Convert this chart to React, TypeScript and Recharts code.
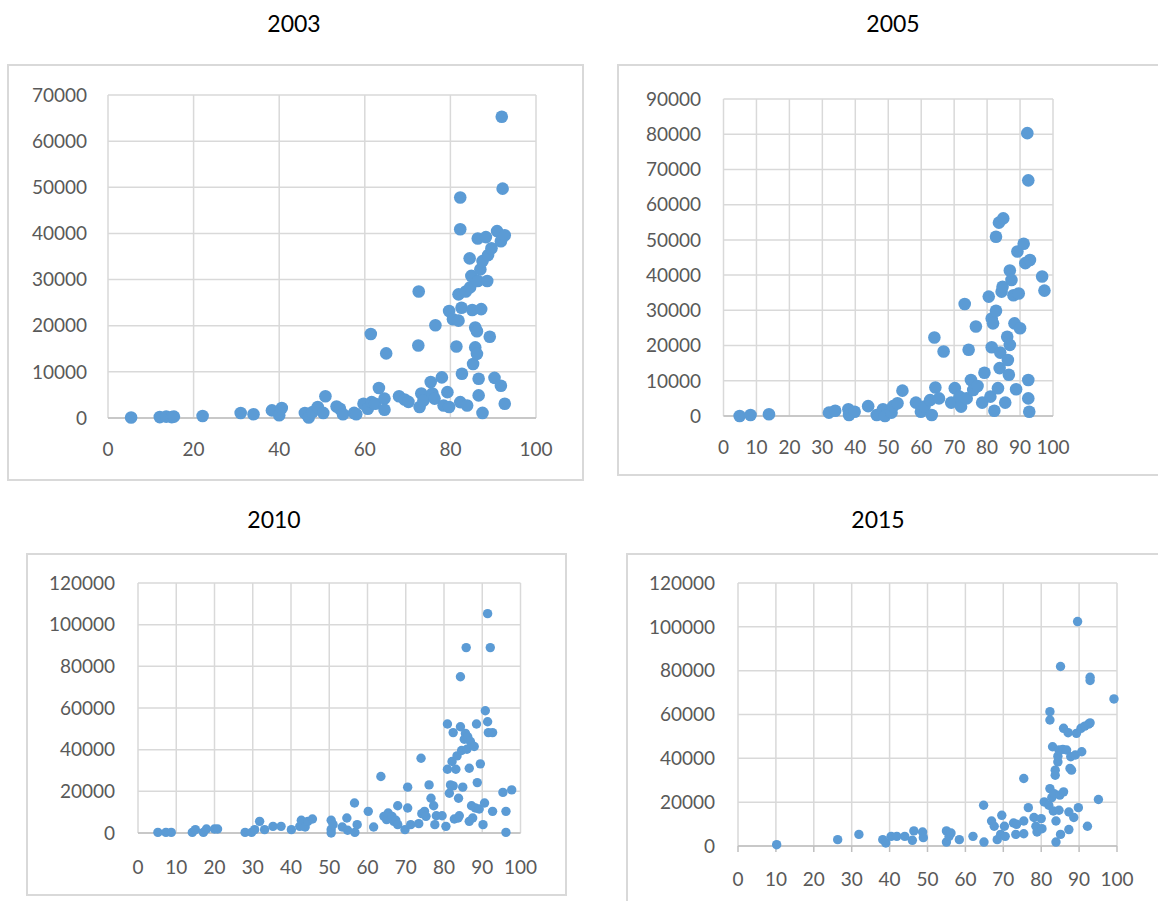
import { ScatterChart, Scatter, XAxis, YAxis, CartesianGrid } from 'recharts'

// [x, y] pairs
const points2003: [number, number][] = [
  [5.4, 100], [12.1, 200], [13.6, 300], [14.9, 200], [15.4, 300], [22.1, 430], [31, 1080], [34, 800],
  [38.3, 1650], [40, 600], [40.6, 2150], [46, 1080], [46.9, 100], [47.8, 1300], [49, 2400], [50.3, 1100],
  [50.8, 4700], [53.4, 2500], [54.2, 2000], [54.9, 800], [57.5, 1100], [58, 800], [59.7, 3100], [60.7, 2000],
  [61.4, 18200], [61.6, 3450], [62.4, 3100], [63.3, 6500], [64.6, 4200], [64.6, 1800], [65, 14000], [68, 4700],
  [69.3, 4000], [70.2, 3500], [72.6, 27400], [72.5, 15700], [72.8, 2400], [73.2, 5300], [73.7, 3800], [75.4, 7800],
  [75.8, 5300], [76.3, 4200], [76.5, 20100], [78, 8800], [78.4, 2700], [79.3, 5600], [79.7, 2400], [79.7, 23200],
  [80.6, 21400], [81.9, 21100], [81.4, 15500], [81.9, 26800], [82.3, 3450], [82.3, 47800], [82.3, 40900], [82.6, 23900],
  [82.7, 9600], [83.9, 2700], [83.6, 27400], [84.5, 34600], [84.9, 30800], [85.1, 23400], [84.6, 28300], [85.3, 11700],
  [85.8, 19600], [85.8, 15300], [86.2, 13900], [86.4, 38900], [86.2, 18800], [86.4, 29700], [86.6, 8500], [86.6, 4900],
  [87, 32200], [87.2, 23600], [87.5, 1100], [87.5, 34000], [88.3, 39200], [88.6, 29700], [88.8, 35300], [89.2, 17600],
  [89.6, 36800], [90.3, 8700], [90.9, 40500], [91.8, 38300], [91.8, 7000], [92, 65300], [92.2, 49700], [92.7, 39600],
  [92.7, 3100],
]

const points2005: [number, number][] = [
  [4.9, 0], [8.2, 300], [13.8, 500], [32, 950], [33.9, 1500], [37.9, 1900], [38.1, 300], [39.8, 1200],
  [43.9, 2800], [46.5, 300], [48.4, 1900], [49, 0], [51, 950], [51.5, 2800], [52.8, 3600], [54.3, 7200],
  [58.4, 3800], [59.9, 1200], [61, 2650], [63.2, 300], [62.7, 4500], [64, 22300], [64.3, 8100], [65.4, 5000],
  [66.8, 18300], [69.1, 3800], [70.2, 7900], [71.6, 5500], [72.1, 2650], [73.2, 31800], [74.4, 18800], [73.8, 5000],
  [75.1, 10200], [75.8, 7400], [76.6, 25400], [77.1, 8500], [78.5, 3800], [79.2, 12300], [80.5, 33900], [81, 5500],
  [81.4, 27700], [81.4, 19500], [81.8, 26300], [82.2, 1500], [82.7, 50900], [82.7, 29900], [83.3, 7900], [83.6, 54900],
  [83.8, 13600], [84, 18000], [84.4, 35300], [84.7, 36700], [84.9, 56100], [85.5, 3800], [86.1, 22500], [86.3, 15900],
  [86.6, 11700], [86.9, 20200], [86.9, 41300], [87.4, 38600], [88, 34300], [88.3, 26300], [88.8, 7600], [89.2, 46700],
  [89.6, 34800], [90, 24900], [91.1, 48900], [91.6, 43400], [92.2, 80300], [92.5, 66900], [92.5, 10200], [92.5, 5000],
  [92.8, 1200], [93, 44300], [96.7, 39600], [97.4, 35600],
]

const points2010: [number, number][] = [
  [5.2, 300], [7.3, 300], [8.7, 300], [14.2, 300], [15, 1600], [17.1, 300], [17.9, 1900], [20, 1900],
  [20.8, 1900], [28, 300], [29.7, 300], [30.5, 1600], [31.8, 5600], [33.1, 1600], [35.3, 3200], [37.4, 3200],
  [40.1, 1600], [42.3, 3200], [42.7, 6100], [43.7, 2900], [44.4, 5600], [45.6, 6700], [50.5, 6100], [50.5, 1600],
  [50.5, 0], [51, 4000], [53.4, 2900], [54.6, 7200], [54.8, 1300], [56.6, 14400], [56.7, 300], [57.3, 4000],
  [60.2, 10400], [61.6, 2900], [63.5, 27100], [64.3, 8000], [65, 6400], [65.4, 9600], [66.4, 8000], [66.9, 5600],
  [67.4, 6100], [67.9, 13100], [67.9, 4000], [69.8, 1600], [70.5, 22000], [70.5, 12000], [71.3, 4000], [73.4, 4500],
  [74, 35900], [74.2, 9300], [74.9, 10400], [75.3, 8000], [76.1, 23100], [76.6, 16700], [77.3, 13100], [77.6, 4000],
  [78, 8300], [79.5, 8300], [80.5, 3200], [80.9, 52300], [80.9, 30600], [81.4, 19100], [81.7, 23100], [82.1, 34300],
  [82.4, 48200], [82.4, 22600], [82.7, 6700], [83.1, 30600], [83.4, 37000], [83.7, 7200], [83.8, 16700], [84, 8300],
  [84.3, 75000], [84.3, 51000], [84.6, 39600], [84.9, 22000], [85.3, 45000], [85.6, 47800], [85.8, 89000], [86, 40200],
  [86.2, 46200], [86.6, 5600], [86.6, 31100], [86.9, 43900], [87.2, 13100], [87.5, 7200], [87.9, 41500], [88.2, 12000],
  [88.5, 52300], [88.7, 24200], [89.2, 11500], [89.5, 33200], [90.2, 4000], [90.6, 14400], [90.8, 58700], [91.4, 53400],
  [91.4, 105300], [91.6, 48200], [92.1, 89000], [92.7, 48200], [92.7, 10400], [95.4, 19500], [96.2, 10400], [96.2, 300],
  [97.7, 20700],
]

const points2015: [number, number][] = [
  [10.2, 600], [26.3, 2900], [31.9, 5300], [38.2, 2900], [39, 1400], [40.4, 4400], [41.9, 4400], [44, 4400],
  [46, 2600], [46.4, 6900], [48.7, 6400], [48.9, 3800], [55, 6900], [55, 1800], [55.7, 4400], [56.2, 5900],
  [58.4, 2900], [62, 4400], [64.8, 18600], [64.9, 1800], [66.9, 11400], [67.6, 9000], [68.4, 2900], [69.6, 14000],
  [69.3, 5300], [70.3, 9000], [70.5, 4400], [72.7, 10500], [73.3, 5300], [73.5, 9900], [75.4, 30800], [75.4, 11400],
  [75.4, 5600], [76.6, 17500], [78.1, 13000], [78.6, 9000], [78.9, 6400], [80, 12500], [80.2, 7900], [80.8, 20100],
  [82, 18600], [82.3, 61300], [82.3, 57500], [82.3, 26200], [82.8, 22100], [83, 45300], [83.2, 16000], [83.4, 23900],
  [83.7, 32300], [83.7, 34600], [83.9, 11400], [83.9, 1800], [84.4, 38400], [84.4, 41000], [84.7, 43800], [84.7, 16300],
  [84.9, 23200], [85.1, 81900], [85.1, 5300], [85.7, 44100], [85.9, 53700], [85.9, 24700], [86.7, 43800], [87.1, 51700],
  [87.3, 15500], [87.3, 7500], [87.6, 35400], [87.8, 40700], [88, 34600], [88.6, 13000], [89, 41500], [89.3, 51400],
  [89.6, 102400], [89.8, 17500], [90.5, 53700], [90.7, 43000], [91.5, 54700], [92.2, 9000], [92.5, 55600], [92.9, 56200],
  [92.9, 77000], [92.9, 75500], [95.1, 21200], [99.2, 67100],
]

const xTicksBy20 = [0, 20, 40, 60, 80, 100]
const xTicksBy10 = [0, 10, 20, 30, 40, 50, 60, 70, 80, 90, 100]
const yTicks2003 = [0, 10000, 20000, 30000, 40000, 50000, 60000, 70000]
const yTicks2005 = [0, 10000, 20000, 30000, 40000, 50000, 60000, 70000, 80000, 90000]
const yTicks2010 = [0, 20000, 40000, 60000, 80000, 100000, 120000]

const BLUE = '#5b9bd5'
const GRID = '#d9d9d9'
const FONT = 'Lato, "Open Sans", sans-serif'

interface PanelProps {
  title: string
  titleX: number
  titleY: number
  points: [number, number][]
  xTicks: number[]
  yTicks: number[]
  box: { left: number; top: number; width: number; height: number }
  chart: { left: number; top: number; width: number; height: number }
  yWidth: number
  margin: { top: number; right: number; bottom: number; left: number }
  xHeight: number
  yTickMargin: number
  xTickMargin: number
  r: number
  xTickLine?: boolean
}

function Panel(p: PanelProps) {
  const data = p.points.map(([x, y]) => ({ x, y }))
  const tick = { fontSize: 19, fill: '#595959', fontFamily: FONT }
  return (
    <>
      <div
        style={{
          position: 'absolute',
          left: p.titleX - 60,
          top: p.titleY - 15,
          width: 120,
          height: 30,
          lineHeight: '30px',
          textAlign: 'center',
          fontFamily: FONT,
          fontSize: 23,
          color: '#000',
        }}
      >
        {p.title}
      </div>
      <div
        style={{
          position: 'absolute',
          left: p.box.left,
          top: p.box.top,
          width: p.box.width,
          height: p.box.height,
          border: `2px solid ${GRID}`,
          boxSizing: 'border-box',
          background: '#fff',
        }}
      />
      <div style={{ position: 'absolute', left: p.chart.left, top: p.chart.top }}>
        <ScatterChart width={p.chart.width} height={p.chart.height} margin={p.margin}>
          <CartesianGrid stroke={GRID} strokeWidth={1.5} />
          <XAxis
            type="number"
            dataKey="x"
            domain={[0, 100]}
            ticks={p.xTicks}
            interval={0}
            height={p.xHeight}
            tick={tick}
            tickLine={p.xTickLine ? { stroke: '#bfbfbf', strokeWidth: 1.5 } : false}
            tickSize={6}
            tickMargin={p.xTickMargin}
            axisLine={{ stroke: '#bfbfbf', strokeWidth: 1.5 }}
          />
          <YAxis
            type="number"
            dataKey="y"
            domain={[0, p.yTicks[p.yTicks.length - 1]]}
            ticks={p.yTicks}
            interval={0}
            width={p.yWidth}
            tick={tick}
            tickLine={false}
            tickSize={6}
            tickMargin={p.yTickMargin}
            axisLine={false}
          />
          <Scatter
            data={data}
            isAnimationActive={false}
            shape={(s: any) => <circle cx={s.cx} cy={s.cy} r={p.r} fill={BLUE} />}
          />
        </ScatterChart>
      </div>
    </>
  )
}

export default function App() {
  return (
    <div style={{ position: 'absolute', left: 0, top: 0, width: 1158, height: 901, background: '#fff', overflow: 'hidden' }}>
      <Panel
        title="2003"
        titleX={294}
        titleY={23}
        points={points2003}
        xTicks={xTicksBy20}
        yTicks={yTicks2003}
        box={{ left: 7, top: 64, width: 577, height: 417 }}
        chart={{ left: 0, top: 80, width: 583, height: 400 }}
        yWidth={108}
        margin={{ top: 15, right: 47, bottom: 22, left: 0 }}
        xHeight={40}
        yTickMargin={15}
        xTickMargin={19}
        r={6.3}
      />
      <Panel
        title="2005"
        titleX={893}
        titleY={23}
        points={points2005}
        xTicks={xTicksBy10}
        yTicks={yTicks2005}
        box={{ left: 617, top: 64, width: 560, height: 412 }}
        chart={{ left: 600, top: 80, width: 500, height: 395 }}
        yWidth={123.5}
        margin={{ top: 19, right: 47, bottom: 19, left: 0 }}
        xHeight={40}
        yTickMargin={16.5}
        xTickMargin={19}
        r={6.3}
      />
      <Panel
        title="2010"
        titleX={274}
        titleY={519}
        points={points2010}
        xTicks={xTicksBy10}
        yTicks={yTicks2010}
        box={{ left: 26, top: 553, width: 541, height: 343 }}
        chart={{ left: 20, top: 560, width: 546, height: 335 }}
        yWidth={118}
        margin={{ top: 23, right: 45.5, bottom: 22, left: 0 }}
        xHeight={40}
        yTickMargin={17}
        xTickMargin={22}
        r={4.7}
      />
      <Panel
        title="2015"
        titleX={878}
        titleY={519}
        points={points2015}
        xTicks={xTicksBy10}
        yTicks={yTicks2010}
        box={{ left: 626, top: 553, width: 560, height: 400 }}
        chart={{ left: 600, top: 560, width: 560, height: 341 }}
        yWidth={138}
        margin={{ top: 23, right: 43, bottom: 10, left: 0 }}
        xHeight={45}
        yTickMargin={17}
        xTickMargin={21}
        r={4.7}
        xTickLine
      />
    </div>
  )
}
